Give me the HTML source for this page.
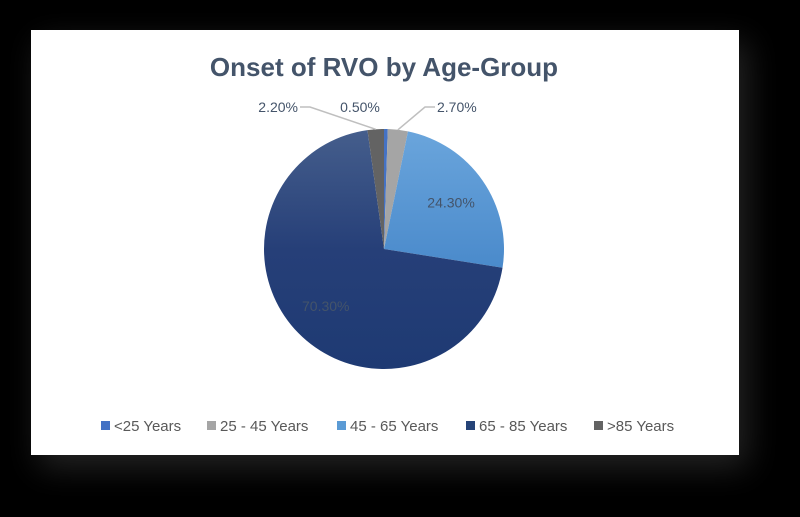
<!DOCTYPE html>
<html><head><meta charset="utf-8"><style>
body{margin:0;background:#000;width:800px;height:517px;overflow:hidden;font-family:"Liberation Sans",sans-serif}
#card{position:absolute;left:31px;top:30px;width:708px;height:425px;background:#fff;box-shadow:8px 12px 30px rgba(60,60,60,0.6)}
svg{position:absolute;left:0;top:0}
</style></head><body>
<div id="card"></div>
<svg id="chart" width="800" height="517">
<defs>
<linearGradient id="g45" x1="0" y1="0" x2="0" y2="1"><stop offset="0" stop-color="#6aa5dc"/><stop offset="1" stop-color="#4a8acb"/></linearGradient>
<linearGradient id="g65" x1="0" y1="0" x2="0" y2="1"><stop offset="0" stop-color="#455e8c"/><stop offset="0.5" stop-color="#263f78"/><stop offset="1" stop-color="#1e3a73"/></linearGradient>
</defs>
<text x="384" y="76" text-anchor="middle" font-size="26" font-weight="bold" fill="#44546a">Onset of RVO by Age-Group</text>
<g id="slices"></g><g id="labels"></g><g id="legend"></g>
</svg>
<script>
const categories=["<25 Years","25 - 45 Years","45 - 65 Years","65 - 85 Years",">85 Years"];
const values=[0.5,2.7,24.3,70.3,2.2];
const valueLabels=["0.50%","2.70%","24.30%","70.30%","2.20%"];
const colors=["#4472c4","#a5a5a5","url(#g45)","url(#g65)","#636363"];
const legendColors=["#4472c4","#a5a5a5","#5b9bd5","#264478","#636363"];
const NS="http://www.w3.org/2000/svg";
const cx=384,cy=249,r=120;
const total=values.reduce((a,b)=>a+b,0);
function pt(a,rr){return [cx+rr*Math.sin(a),cy-rr*Math.cos(a)];}
let a0=0;const sl=document.getElementById('slices'),lb=document.getElementById('labels');
const outer=[[298,112,"end"],[360,112,"middle"],[437,112,"start"]];
values.forEach((v,i)=>{
 const a1=a0+v/total*2*Math.PI;
 const p0=pt(a0,r),p1=pt(a1,r);
 const p=document.createElementNS(NS,'path');
 p.setAttribute('d',`M${cx},${cy}L${p0[0]},${p0[1]}A${r},${r} 0 ${a1-a0>Math.PI?1:0} 1 ${p1[0]},${p1[1]}Z`);
 p.setAttribute('fill',colors[i]);
 
 
 sl.appendChild(p);
 const mid=(a0+a1)/2;
 const t=document.createElementNS(NS,'text');
 t.setAttribute('font-size','14');t.setAttribute('fill','#44546a');
 if(v<5){
  const idx=i==0?1:(i==1?2:0);const o=outer[idx];
  const e=pt(mid,r);
  t.setAttribute('x',o[0]);t.setAttribute('y',o[1]);t.setAttribute('text-anchor',o[2]);
  if(i!=0){const l=document.createElementNS(NS,'polyline');
   const lx=i==1?o[0]-2:o[0]+2;
   l.setAttribute('points',`${lx},${o[1]-5} ${i==1?lx-10:lx+10},${o[1]-5} ${e[0]},${e[1]}`);
   l.setAttribute('fill','none');l.setAttribute('stroke','#bfbfbf');l.setAttribute('stroke-width','1.5');
   
   
   lb.appendChild(l);}
 } else {
  const q=pt(mid,r*0.68);
  t.setAttribute('x',q[0]);t.setAttribute('y',q[1]+5);t.setAttribute('text-anchor','middle');
 }
 t.textContent=valueLabels[i];
 
 
 lb.appendChild(t);
 a0=a1;
});
const lg=document.getElementById('legend');
const lx=[101,207,337,466,594];
categories.forEach((c,i)=>{
 const g=document.createElementNS(NS,'g');
 
 
 const s=document.createElementNS(NS,'rect');
 s.setAttribute('x',lx[i]);s.setAttribute('y',421);s.setAttribute('width',9);s.setAttribute('height',9);s.setAttribute('fill',legendColors[i]);
 const t=document.createElementNS(NS,'text');
 t.setAttribute('x',lx[i]+13);t.setAttribute('y',431);t.setAttribute('font-size','15');t.setAttribute('fill','#595959');
 t.textContent=c;
 g.appendChild(s);g.appendChild(t);lg.appendChild(g);
});
</script>
</body></html>
